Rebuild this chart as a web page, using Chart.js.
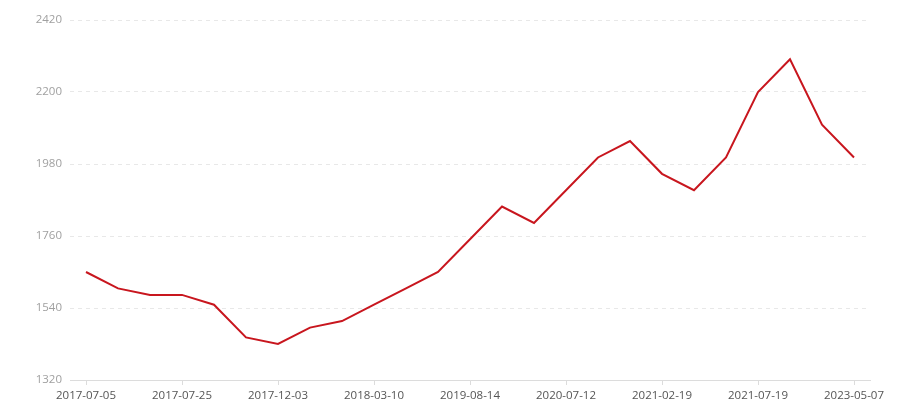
<!DOCTYPE html>
<html>
<head>
<meta charset="utf-8">
<script src="https://cdn.jsdelivr.net/npm/chart.js@4"></script>
<style>
    html, body { margin: 0; padding: 0; background: #fff; }
    #wrap { width: 900px; height: 400px; }
</style>
</head>
<body>
<div id="wrap"><canvas id="price-chart"></canvas></div>
<script>
// Dates along the x axis (only every 3rd one is labelled)
const dates = [
    '2017-07-05', '2017-07-12', '2017-07-19', '2017-07-25', '2017-08-30',
    '2017-10-15', '2017-12-03', '2017-12-28', '2018-02-01', '2018-03-10',
    '2018-08-20', '2019-01-15', '2019-08-14', '2019-12-05', '2020-03-18',
    '2020-07-12', '2020-09-20', '2020-12-01', '2021-02-19', '2021-04-10',
    '2021-06-01', '2021-07-19', '2021-12-15', '2022-08-20', '2023-05-07'
];

// Series values
const values = [
    1650, 1600, 1580, 1580, 1550,
    1450, 1430, 1480, 1500, 1550,
    1600, 1650, 1750, 1850, 1800,
    1900, 2000, 2050, 1950, 1900,
    2000, 2200, 2300, 2100, 2000
];

// Y axis range
const yMin = 1320;
const yMax = 2420;
const yStep = 220;
const labelEvery = 3;

const fontFamily = '"Open Sans", "Noto Sans", sans-serif';
const ctx = document.getElementById('price-chart').getContext('2d');

new Chart(ctx, {
    type: 'line',
    data: {
        labels: dates,
        datasets: [{
            data: values,
            borderColor: '#c8161e',
            borderWidth: 2,
            pointRadius: 0,
            pointHoverRadius: 0,
            fill: false,
            tension: 0
        }]
    },
    options: {
        responsive: true,
        maintainAspectRatio: false,
        animation: false,
        layout: {
            padding: { left: 10, right: 30, top: 20, bottom: 0 }
        },
        plugins: {
            legend: { display: false },
            tooltip: { enabled: false }
        },
        scales: {
            x: {
                offset: true,
                afterBuildTicks: function(scale) {
                    // keep every 3rd label, like the original
                    scale.ticks = scale.ticks.filter(t => t.value % labelEvery === 0);
                },
                afterFit: function(scale) {
                    scale.height = 20;
                },
                grid: {
                    display: true,
                    drawOnChartArea: false,
                    drawTicks: true,
                    tickLength: 5,
                    tickColor: '#dcdcdc',
                    offset: false
                },
                border: {
                    display: true,
                    color: '#dcdcdc',
                    width: 1
                },
                ticks: {
                    autoSkip: false,
                    maxRotation: 0,
                    padding: 4,
                    color: '#555555',
                    font: { family: fontFamily, size: 11.5 }
                }
            },
            y: {
                min: yMin,
                max: yMax,
                afterFit: function(scale) {
                    scale.width = 60;
                },
                grid: {
                    color: '#e8e8e8',
                    drawTicks: false
                },
                border: {
                    display: false,
                    dash: [4, 4]
                },
                ticks: {
                    stepSize: yStep,
                    padding: 8,
                    color: '#a0a0a0',
                    font: { family: fontFamily, size: 11.5 },
                    callback: function(value) {
                        return String(value);
                    }
                }
            }
        }
    }
});
</script>
</body>
</html>
